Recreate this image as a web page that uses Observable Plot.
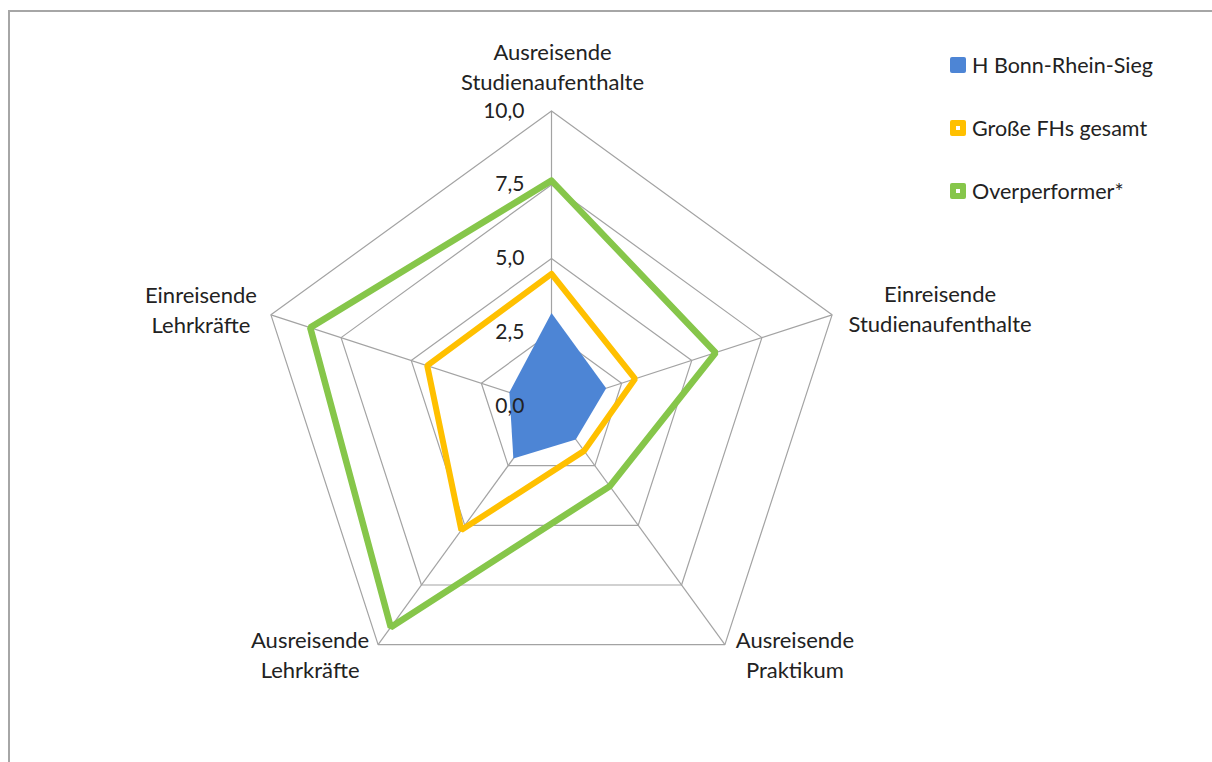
<!DOCTYPE html>
<html>
<head>
<meta charset="utf-8">
<script src="https://cdn.jsdelivr.net/npm/d3@7"></script>
<script src="https://cdn.jsdelivr.net/npm/@observablehq/plot@0.6"></script>
<style>
  html, body { margin: 0; padding: 0; background: #fff; overflow: hidden; }
  #wrap { position: relative; width: 1212px; height: 762px; overflow: hidden; font-family: Lato, "Open Sans", sans-serif; }
  #frame { position: absolute; left: 8px; top: 10px; width: 1204px; height: 752px; border-top: 2px solid #a6a6a6; border-left: 2px solid #a6a6a6; box-sizing: border-box; }
  #chart { position: absolute; left: 0; top: 0; }
  #legend { position: absolute; left: 950px; top: 52px; }
  .li { display: flex; align-items: center; height: 26px; margin-bottom: 37px; font-size: 21.5px; color: #222; }
  .sw { width: 16px; height: 16px; border-radius: 2px; margin-right: 6px; box-sizing: border-box; position: relative; flex: none; }
  .sw.hollow::after { content: ""; position: absolute; left: 6px; top: 6px; width: 4px; height: 4px; background: #fff; }
</style>
</head>
<body>
<div id="wrap">
  <div id="frame"></div>
  <div id="chart"></div>
  <div id="legend"></div>
</div>
<script>
// ---- data ----
const categories = [
  "Ausreisende\nStudienaufenthalte",
  "Einreisende\nStudienaufenthalte",
  "Ausreisende\nPraktikum",
  "Ausreisende\nLehrkräfte",
  "Einreisende\nLehrkräfte"
];
const seriesNames = ["H Bonn-Rhein-Sieg", "Große FHs gesamt", "Overperformer*"];
const hbrsValues = [3.15, 1.95, 1.4, 2.2, 1.5];
const grosseFHsValues = [4.48, 2.98, 1.88, 5.2, 4.43];
const overperformerValues = [7.64, 5.85, 3.36, 9.27, 8.6];
const tickValues = [0, 2.5, 5, 7.5, 10];
const tickLabels = ["0,0", "2,5", "5,0", "7,5", "10,0"];

// ---- layout ----
const W = 1212, H = 762;
const cx = 551, cy = 405.5, pxPerUnit = 29.5;
const n = categories.length;
const ang = i => (i * 2 * Math.PI) / n; // clockwise from top
const px = (i, r) => r * Math.sin(ang(i));
const py = (i, r) => r * Math.cos(ang(i));

const colors = { blue: "#4d85d5", orange: "#ffc000", green: "#86c64a", grid: "#a3a3a3" };

// grid rings
const rings = [];
tickValues.filter(t => t > 0).forEach(t => {
  for (let k = 0; k <= n; k++) rings.push({ ring: t, x: px(k % n, t), y: py(k % n, t) });
});
const spokes = categories.map((c, i) => ({ x1: 0, y1: 0, x2: px(i, 10), y2: py(i, 10) }));

function poly(vals, name) {
  const pts = vals.map((v, i) => ({ series: name, x: px(i, v), y: py(i, v) }));
  pts.push({ ...pts[0] });
  return pts;
}
const blue = poly(hbrsValues, seriesNames[0]);
const orange = poly(grosseFHsValues, seriesNames[1]);
const green = poly(overperformerValues, seriesNames[2]);

const ticks = tickValues.map((t, i) => ({ x: 0, y: t, label: tickLabels[i] }));

// label offsets in pixels (relative to outer vertex)
const labelOffsets = [[1, -46], [108, -7], [70, 9], [-68, 9], [-70, -6]];
const labelMarks = categories.map((c, i) =>
  Plot.text([{ x: px(i, 10), y: py(i, 10), label: c }], {
    x: "x", y: "y", text: "label",
    dx: labelOffsets[i][0], dy: labelOffsets[i][1],
    textAnchor: "middle", lineHeight: 1.36, fontSize: 22, fill: "#222"
  })
);

const plot = Plot.plot({
  width: W, height: H, margin: 0,
  style: { fontFamily: "Lato, 'Open Sans', sans-serif", background: "transparent" },
  x: { domain: [-cx / pxPerUnit, (W - cx) / pxPerUnit], axis: null },
  y: { domain: [-(H - cy) / pxPerUnit, cy / pxPerUnit], axis: null },
  marks: [
    Plot.line(rings, { x: "x", y: "y", z: "ring", stroke: colors.grid, strokeWidth: 1.2 }),
    Plot.link(spokes, { x1: "x1", y1: "y1", x2: "x2", y2: "y2", stroke: colors.grid, strokeWidth: 1.2 }),
    Plot.line(blue, { x: "x", y: "y", fill: colors.blue, stroke: "none", curve: "linear-closed" }),
    Plot.line(orange, { x: "x", y: "y", stroke: colors.orange, strokeWidth: 6, strokeLinejoin: "miter" }),
    Plot.line(green, { x: "x", y: "y", stroke: colors.green, strokeWidth: 6.5, strokeLinejoin: "miter" }),
    Plot.text(ticks, { x: "x", y: "y", text: "label", textAnchor: "end", dx: -27, fontSize: 21, fill: "#222" }),
    ...labelMarks
  ]
});
document.getElementById("chart").appendChild(plot);

// legend
const legend = document.getElementById("legend");
[[seriesNames[0], colors.blue, false], [seriesNames[1], colors.orange, true], [seriesNames[2], colors.green, true]].forEach(([name, col, hollow]) => {
  const li = document.createElement("div");
  li.className = "li";
  const sw = document.createElement("span");
  sw.className = "sw" + (hollow ? " hollow" : "");
  sw.style.background = col;
  li.appendChild(sw);
  const t = document.createElement("span");
  t.textContent = name;
  li.appendChild(t);
  legend.appendChild(li);
});
</script>
</body>
</html>
